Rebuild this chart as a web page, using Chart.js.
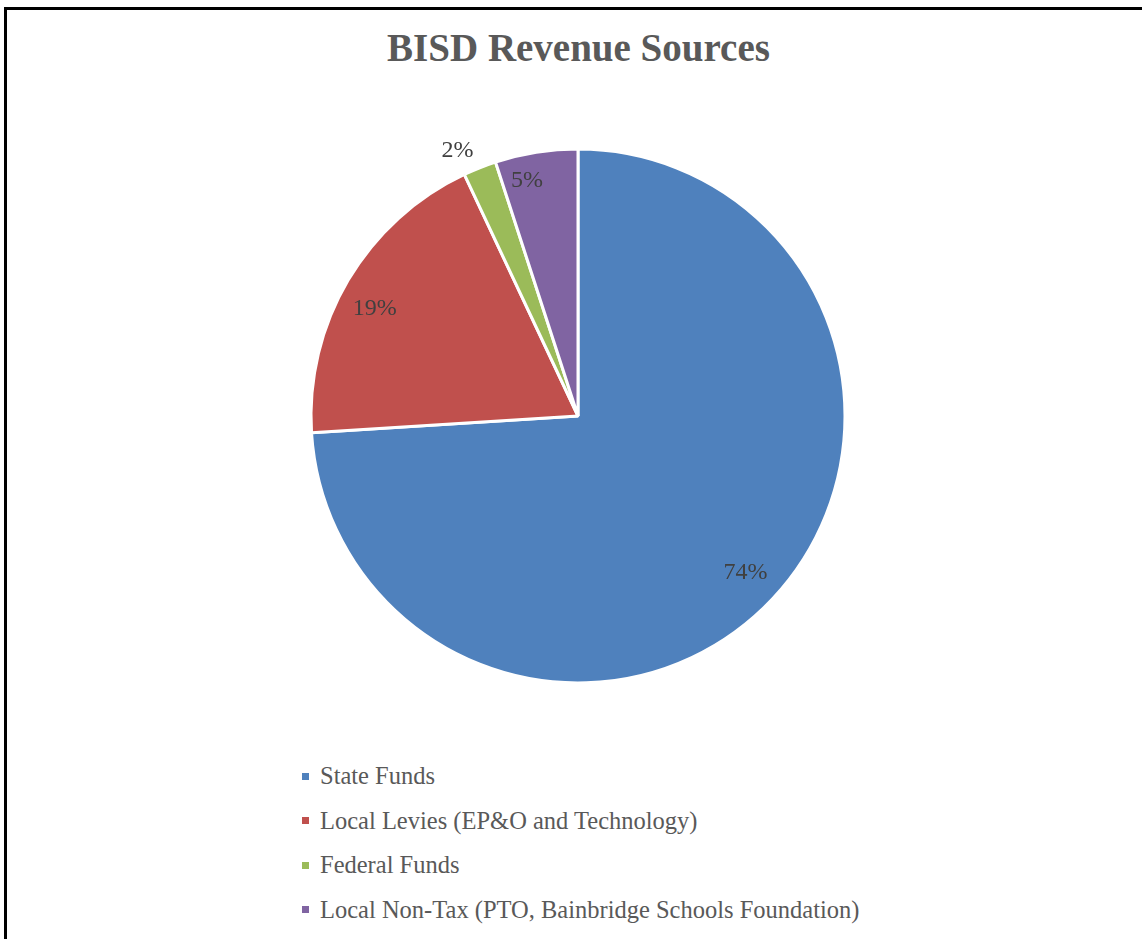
<!DOCTYPE html>
<html lang="en">
<head>
    <meta charset="UTF-8">
    <title>BISD Revenue Sources</title>
    <script src="https://cdn.jsdelivr.net/npm/chart.js"></script>
    <style>
        body { margin: 0; background: #fff; font-family: "Liberation Serif", serif; }
        .frame { position: absolute; left: 4px; top: 7px; width: 1200px; height: 1000px;
                 border-left: 3px solid #000; border-top: 3px solid #000; }
        .title { position: absolute; left: 0; width: 1157px; top: 25px; text-align: center;
                 font-size: 39px; font-weight: bold; color: #595959; }
        #chartBox { position: absolute; left: 278px; top: 116px; width: 600px; height: 600px; }
        .legend { position: absolute; left: 302px; top: 754px; color: #595959; font-size: 24.5px; }
        .legend div { height: 44.5px; display: flex; align-items: center; white-space: nowrap; }
        .legend span.box { width: 7px; height: 7px; margin-right: 11px; display: inline-block; }
    </style>
</head>
<body>
    <div class="frame"></div>
    <div class="title">BISD Revenue Sources</div>
    <div id="chartBox"><canvas id="pie" width="600" height="600"></canvas></div>
    <div class="legend" id="legend"></div>

    <script>
        // data
        const labels = ['State Funds', 'Local Levies (EP&O and Technology)', 'Federal Funds', 'Local Non-Tax (PTO, Bainbridge Schools Foundation)'];
        const shares = [74, 19, 2, 5];
        const colors = ['#4F81BD', '#C0504D', '#9BBB59', '#8064A2'];

        // legend as html, one row per label
        const legend = document.getElementById('legend');
        labels.forEach((name, i) => {
            const row = document.createElement('div');
            row.innerHTML = '<span class="box" style="background:' + colors[i] + '"></span>' + name.replace(/&/g, '&amp;');
            legend.appendChild(row);
        });

        // percent labels drawn on / next to each slice
        const pctLabels = {
            id: 'pctLabels',
            afterDatasetsDraw(chart, args, opts) {
                const ctx = chart.ctx;
                const meta = chart.getDatasetMeta(0);
                const total = shares.reduce((a, b) => a + b, 0);
                ctx.save();
                ctx.font = '24px "Liberation Serif", serif';
                ctx.fillStyle = '#404040';
                ctx.textAlign = 'center';
                ctx.textBaseline = 'middle';
                meta.data.forEach((arc, i) => {
                    const p = arc.getProps(['x', 'y', 'startAngle', 'endAngle', 'outerRadius'], true);
                    const mid = (p.startAngle + p.endAngle) / 2 + (opts.turn[i] || 0);
                    const r = p.outerRadius * opts.radius[i];
                    const txt = Math.round(shares[i] / total * 100) + '%';
                    ctx.fillText(txt, p.x + Math.cos(mid) * r, p.y + Math.sin(mid) * r);
                });
                ctx.restore();
            }
        };

        new Chart(document.getElementById('pie'), {
            type: 'pie',
            data: {
                labels: labels,
                datasets: [{
                    data: shares,
                    backgroundColor: colors,
                    borderColor: '#ffffff',
                    borderWidth: 3,
                    hoverOffset: 0
                }]
            },
            options: {
                responsive: false,
                animation: false,
                radius: 267,
                layout: { padding: 0 },
                plugins: {
                    legend: { display: false },
                    title: { display: false },
                    tooltip: { enabled: false },
                    pctLabels: { radius: [0.86, 0.86, 1.09, 0.9], turn: [0, -0.05, -0.05, -0.057] }
                }
            },
            plugins: [pctLabels]
        });
    </script>
</body>
</html>
